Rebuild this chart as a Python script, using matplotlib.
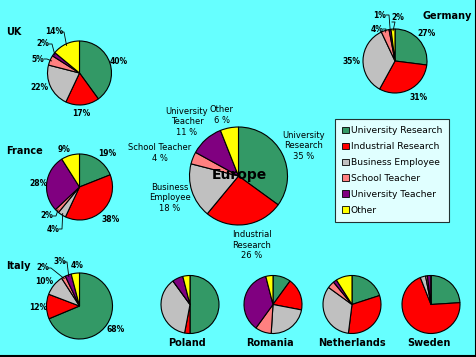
import matplotlib.pyplot as plt
from matplotlib.patches import Rectangle
import numpy as np

# categories and colours (clockwise from 12 o'clock)
categories = ['University Research', 'Industrial Research', 'Business Employee',
              'School Teacher', 'University Teacher', 'Other']
colors = ['#339966', '#FF0000', '#C0C0C0', '#FF8080', '#800080', '#FFFF00']

# shares in % per country
uk = [40, 17, 22, 5, 2, 14]
germany = [27, 31, 35, 4, 1, 2]
france = [19, 38, 4, 2, 28, 9]
europe = [35, 26, 18, 4, 11, 6]
italy = [68, 12, 10, 2, 3, 4]
poland = [50, 3, 37, 0, 6, 4]
romania = [10, 18, 23, 9, 36, 4]
netherlands = [20, 32, 33, 4, 2, 9]
sweden = [24, 70, 3, 1, 2, 0]

W, H = 476, 357
BG = '#66FFFF'


def P(x, y):
    # pixel (top-left origin) -> data coords
    return x, H - y


fig = plt.figure(figsize=(W / 100, H / 100), dpi=100, facecolor=BG)
ax = fig.add_axes([0, 0, 1, 1])
ax.set_facecolor(BG)


def rim_point(values, idx, cx, cy, r, f=1.0):
    total = sum(values)
    start = sum(values[:idx]) / total * 360
    mid = start + values[idx] / total * 180
    ang = np.deg2rad(90 - mid)
    return cx + r * f * np.cos(ang), cy + r * f * np.sin(ang)


def draw_pie(values, cx, cy, r):
    ax.pie(values, colors=colors, startangle=90, counterclock=False,
           center=P(cx, cy), radius=r,
           wedgeprops=dict(edgecolor='black', linewidth=0.8))


pct_font = dict(fontsize=5.5, fontweight='bold', ha='center', va='center')


def pct_labels(values, cx, cy, r, spots, leaders=()):
    for i, (lx, ly) in spots.items():
        ax.text(*P(lx, ly), f'{values[i]}%', **pct_font)
        if i in leaders:
            px, py = rim_point(values, i, *P(cx, cy), r, 0.95)
            ex, ey = leaders[i]
            ax.plot([ex, ex + 3 if ex < px else ex - 3, px],
                    [H - ey, H - ey, py], color='black', lw=0.6)


title_font = dict(fontsize=7, fontweight='bold', va='center')

# UK
draw_pie(uk, 79.5, 73, 32)
ax.text(*P(6, 32), 'UK', ha='left', **title_font)
pct_labels(uk, 79.5, 73, 32,
           {0: (119, 61), 1: (81, 113), 2: (39, 88), 3: (38, 59), 4: (43, 44), 5: (54, 32)},
           leaders={3: (44, 59), 4: (49, 44), 5: (61, 32)})

# Germany
draw_pie(germany, 395, 61, 32)
ax.text(*P(472, 16), 'Germany', ha='right', **title_font)
pct_labels(germany, 395, 61, 32,
           {0: (427, 34), 1: (419, 98), 2: (352, 62), 3: (377, 29), 4: (380, 15), 5: (398, 17)},
           leaders={3: (383, 29), 4: (386, 15), 5: (392, 22)})

# France
draw_pie(france, 79.5, 187, 33)
ax.text(*P(6, 151), 'France', ha='left', **title_font)
pct_labels(france, 79.5, 187, 33,
           {0: (107, 154), 1: (111, 219), 2: (53, 229), 3: (47, 216), 4: (38, 184), 5: (64, 150)},
           leaders={2: (59, 229), 3: (53, 216)})

# Italy
draw_pie(italy, 79.5, 306, 33)
ax.text(*P(6, 266), 'Italy', ha='left', **title_font)
pct_labels(italy, 79.5, 306, 33,
           {0: (116, 329), 1: (38, 308), 2: (44, 281), 3: (43, 268), 4: (60, 262), 5: (77, 266)},
           leaders={3: (48, 268), 4: (64, 262)})

# Europe
draw_pie(europe, 238.5, 176, 49)
ax.text(*P(239, 175), 'Europe', ha='center', fontsize=10, fontweight='bold', va='center')
eu_font = dict(fontsize=6, ha='center', va='center', linespacing=1.15)
eu_spots = {0: (304, 146), 1: (252, 245), 2: (170, 198), 3: (160, 153), 4: (187, 122), 5: (222, 115)}
eu_names = ['University\nResearch', 'Industrial\nResearch', 'Business\nEmployee',
            'School Teacher', 'University\nTeacher', 'Other']
for i, (lx, ly) in eu_spots.items():
    ax.text(*P(lx, ly), f'{eu_names[i]}\n{europe[i]} %', **eu_font)

# bottom row
for vals, cx, name, tx in [(poland, 190, 'Poland', 187), (romania, 273, 'Romania', 270),
                           (netherlands, 352, 'Netherlands', 352), (sweden, 431, 'Sweden', 429)]:
    draw_pie(vals, cx, 304.5, 29)
    ax.text(*P(tx, 343), name, ha='center', **title_font)

# legend
handles = [Rectangle((0, 0), 1, 1, facecolor=c, edgecolor='black', lw=0.6) for c in colors]
leg = fig.legend(handles, categories, loc='upper left', bbox_to_anchor=(335 / W, 1 - 119 / H),
                 frameon=True, fancybox=False, fontsize=6.6, handlelength=0.75, handleheight=0.75,
                 handletextpad=0.15, labelspacing=0.75, borderpad=0.8, borderaxespad=0)
leg.get_frame().set_edgecolor('black')
leg.get_frame().set_linewidth(0.8)
leg._legend_box.align = 'left'
for t in leg.get_texts():
    t.set_x(0)

ax.set_xlim(0, W)
ax.set_ylim(0, H)
ax.set_aspect('equal')
ax.axis('off')

# right / bottom border
ax.plot([W - 0.5, W - 0.5, 0], [H, 0.8, 0.8], color='black', lw=1.5, clip_on=False)

fig.savefig('out.png', dpi=100, facecolor=BG)
